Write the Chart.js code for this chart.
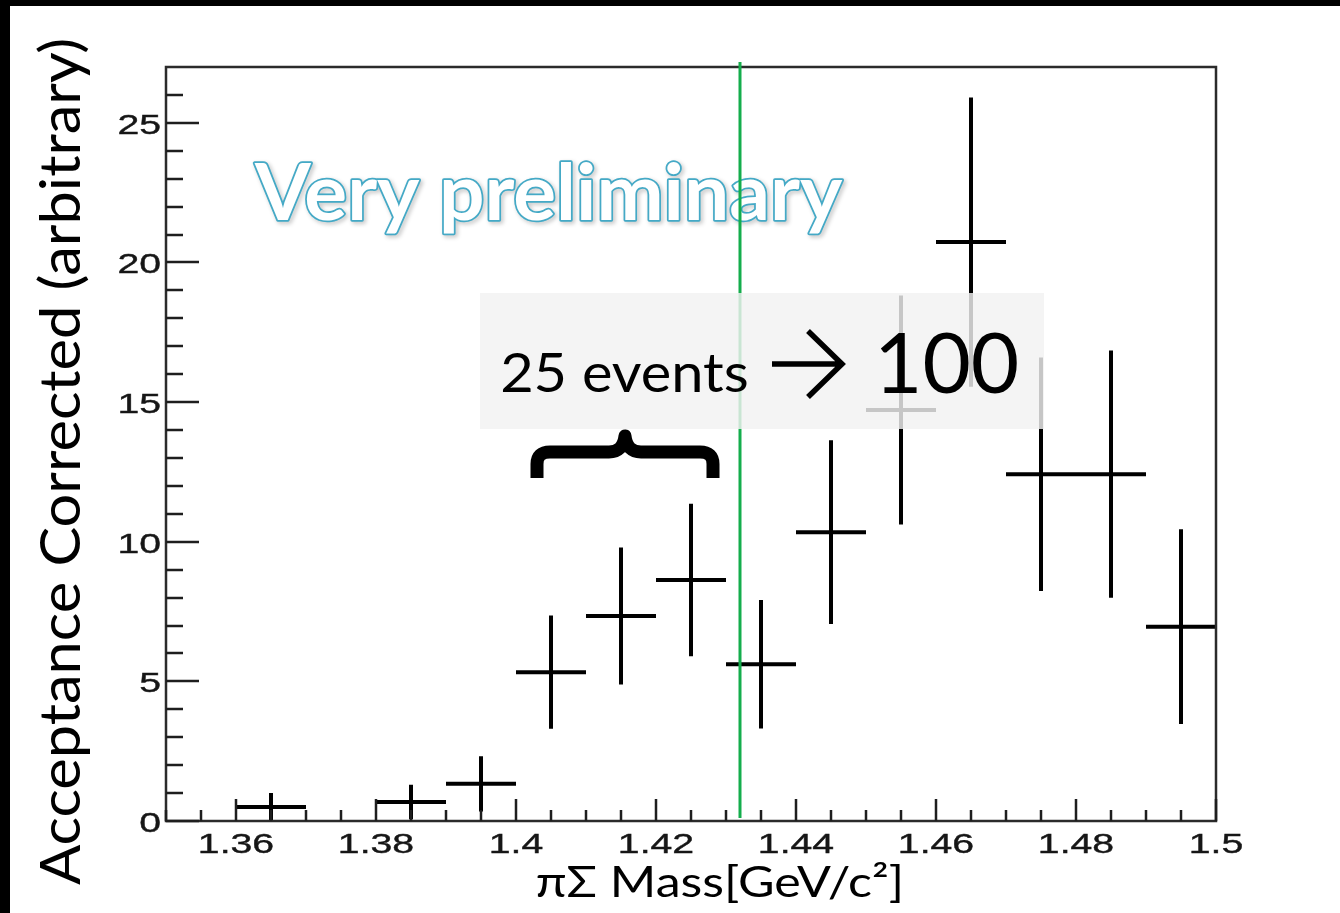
<!DOCTYPE html>
<html>
<head>
<meta charset="utf-8">
<script src="https://cdn.jsdelivr.net/npm/chart.js@4.4.1/dist/chart.umd.min.js"></script>
<style>
  html, body { margin: 0; padding: 0; background: #000; overflow: hidden; }
  #wrap { position: absolute; left: 0; top: 0; width: 1340px; height: 913px; }
</style>
</head>
<body>
<div id="wrap"><canvas id="massChart"></canvas></div>
<script>
// piSigma invariant mass, acceptance corrected yield per 10 MeV bin
var binCenters = [1.365, 1.385, 1.395, 1.405, 1.415, 1.425, 1.435, 1.445, 1.455, 1.465, 1.475, 1.485, 1.495];
var counts     = [0.50, 0.68, 1.33, 5.33, 7.34, 8.63, 5.61, 10.34, 14.72, 20.73, 12.42, 12.42, 6.96];
var errors     = [0.50, 0.62, 0.99, 2.03, 2.45, 2.73, 2.30, 3.29, 4.10, 5.18, 4.18, 4.43, 3.49];
var binWidth = 0.01;

var xTickValues = [1.36, 1.38, 1.4, 1.42, 1.44, 1.46, 1.48, 1.5];
var yTickValues = [0, 5, 10, 15, 20, 25];
var xMinorStep = 0.005;
var yMinorStep = 1;

var thresholdMass = 1.432; // K-p threshold

// error crosses as broken line segments (null breaks the line)
var hBars = [], vBars = [];
binCenters.forEach(function(x, i) {
    hBars.push({x: x - binWidth / 2, y: counts[i]}, {x: x + binWidth / 2, y: counts[i]}, {x: x, y: null});
    vBars.push({x: x, y: counts[i] - errors[i]}, {x: x, y: counts[i] + errors[i]}, {x: x, y: null});
});

// draw text squeezed/stretched so its ink fills the given box
function fitText(ctx, text, font, left, right, top, baseline, mode) {
    ctx.save();
    ctx.font = font;
    ctx.textAlign = 'left';
    ctx.textBaseline = 'alphabetic';
    var m = ctx.measureText(text);
    var inkW = m.actualBoundingBoxLeft + m.actualBoundingBoxRight;
    var sx = (right - left) / inkW;
    var sy = (baseline - top) / m.actualBoundingBoxAscent;
    ctx.translate(left, baseline);
    ctx.scale(sx, sy);
    if (mode && mode.stroke) {
        ctx.lineWidth = mode.lineWidth / ((sx + sy) / 2);
        ctx.strokeStyle = mode.stroke;
        ctx.lineJoin = 'round';
        if (mode.shadow) {
            ctx.shadowColor = mode.shadow;
            ctx.shadowBlur = 4;
            ctx.shadowOffsetX = 2;
            ctx.shadowOffsetY = 2;
        }
        ctx.strokeText(text, m.actualBoundingBoxLeft, 0);
        ctx.shadowColor = 'transparent';
        ctx.fillStyle = mode.fill;
        ctx.fillText(text, m.actualBoundingBoxLeft, 0);
    } else {
        ctx.fillStyle = (mode && mode.fill) || '#000';
        ctx.fillText(text, m.actualBoundingBoxLeft, 0);
    }
    ctx.restore();
}

var slide = {
    id: 'slide',
    beforeDraw: function(chart) {
        var ctx = chart.ctx;
        ctx.save();
        ctx.fillStyle = '#fff';
        ctx.fillRect(0, 0, chart.width, chart.height);
        ctx.fillStyle = '#000';
        ctx.fillRect(0, 0, chart.width, 6);
        ctx.fillRect(0, 0, 10, chart.height);
        ctx.restore();
    },
    afterDatasetsDraw: function(chart) {
        var ctx = chart.ctx;
        var a = chart.chartArea;
        var xs = chart.scales.x, ys = chart.scales.y;
        ctx.save();

        // frame
        ctx.strokeStyle = '#2b2b2b';
        ctx.lineWidth = 2.5;
        ctx.strokeRect(a.left, a.top, a.right - a.left, a.bottom - a.top);

        // ticks (inside the frame)
        ctx.strokeStyle = '#1e1e1e';
        ctx.lineWidth = 2.5;
        ctx.beginPath();
        for (var v = xs.min; v <= xs.max + 1e-9; v += xMinorStep) {
            var px = Math.round(xs.getPixelForValue(v));
            var major = xTickValues.some(function(t) { return Math.abs(t - v) < 1e-6; });
            ctx.moveTo(px, a.bottom);
            ctx.lineTo(px, a.bottom - (major ? 22 : 11));
        }
        for (var w = ys.min; w <= ys.max - 0.5; w += yMinorStep) {
            var py = Math.round(ys.getPixelForValue(w));
            var maj = yTickValues.indexOf(w) >= 0;
            ctx.moveTo(a.left, py);
            ctx.lineTo(a.left + (maj ? 33 : 17), py);
        }
        ctx.stroke();

        // tick labels, wide and a little soft
        ctx.save();
        ctx.filter = 'blur(0.5px)';
        ctx.fillStyle = '#161616';
        ctx.strokeStyle = '#161616';
        ctx.lineWidth = 0.4;
        ctx.font = '28px "Liberation Sans", Arial, sans-serif';
        ctx.textBaseline = 'alphabetic';
        xTickValues.forEach(function(t) {
            ctx.save();
            ctx.translate(xs.getPixelForValue(t), 853);
            ctx.scale(1.4, 1);
            ctx.textAlign = 'center';
            ctx.fillText(String(t), 0, 0);
            ctx.strokeText(String(t), 0, 0);
            ctx.restore();
        });
        yTickValues.forEach(function(t) {
            ctx.save();
            ctx.translate(161, ys.getPixelForValue(t) + 11);
            ctx.scale(1.4, 1);
            ctx.textAlign = 'right';
            ctx.fillText(String(t), 0, 0);
            ctx.strokeText(String(t), 0, 0);
            ctx.restore();
        });
        ctx.restore();

        // axis titles
        ctx.save();
        ctx.translate(80, 885);
        ctx.rotate(-Math.PI / 2);
        fitText(ctx, 'Acceptance Corrected (arbitrary)', '48px Lato, "Open Sans", sans-serif', 0, 845, -45, 0);
        ctx.restore();
        fitText(ctx, 'πΣ Mass[GeV/c²]', '40px Lato, "Open Sans", sans-serif', 537, 900, 862, 897);

        // watermark
        fitText(ctx, 'Very preliminary', 'bold 80px Lato, "Open Sans", sans-serif', 254, 843, 161, 220,
            {stroke: '#44a9c6', lineWidth: 3.5, fill: '#fff', shadow: 'rgba(0,0,0,0.25)'});

        // K-p threshold
        var tx = xs.getPixelForValue(thresholdMass);
        ctx.strokeStyle = '#14ad4c';
        ctx.lineWidth = 3;
        ctx.beginPath();
        ctx.moveTo(tx, a.top - 5);
        ctx.lineTo(tx, a.bottom - 3);
        ctx.stroke();

        // callout box
        ctx.fillStyle = 'rgba(242,242,242,0.82)';
        ctx.fillRect(480, 293, 564, 136);
        fitText(ctx, '25 events', '62px Lato, "Open Sans", sans-serif', 502, 747, 352, 392);
        fitText(ctx, '100', '96px Lato, "Open Sans", sans-serif', 880, 1017, 332, 393);

        // arrow
        ctx.strokeStyle = '#000';
        ctx.lineWidth = 5.5;
        ctx.lineJoin = 'miter';
        ctx.beginPath();
        ctx.moveTo(772, 364);
        ctx.lineTo(840, 364);
        ctx.moveTo(808, 331);
        ctx.lineTo(842, 364);
        ctx.lineTo(808, 397);
        ctx.stroke();

        // brace over the three bins
        ctx.lineWidth = 13;
        ctx.lineJoin = 'round';
        ctx.beginPath();
        ctx.moveTo(537, 478);
        ctx.lineTo(537, 464);
        ctx.quadraticCurveTo(537, 452, 550, 452);
        ctx.lineTo(609, 452);
        ctx.quadraticCurveTo(623, 452, 625, 436);
        ctx.quadraticCurveTo(627, 452, 641, 452);
        ctx.lineTo(700, 452);
        ctx.quadraticCurveTo(713, 452, 713, 464);
        ctx.lineTo(713, 478);
        ctx.stroke();

        ctx.restore();
    }
};

var config = {
    type: 'line',
    data: {
        datasets: [{
            label: 'bin width',
            data: hBars,
            borderColor: '#000',
            borderWidth: 4,
            pointRadius: 0,
            spanGaps: false,
            borderCapStyle: 'butt'
        }, {
            label: 'error',
            data: vBars,
            borderColor: '#000',
            borderWidth: 4,
            pointRadius: 0,
            spanGaps: false,
            borderCapStyle: 'butt'
        }]
    },
    options: {
        responsive: true,
        maintainAspectRatio: false,
        animation: false,
        layout: {
            padding: {left: 166, top: 67, right: 124, bottom: 92}
        },
        plugins: {
            legend: {display: false},
            tooltip: {enabled: false}
        },
        scales: {
            x: {
                type: 'linear',
                display: false,
                min: 1.35,
                max: 1.5
            },
            y: {
                type: 'linear',
                display: false,
                min: 0,
                max: 27
            }
        }
    },
    plugins: [slide]
};

var massChart = new Chart(document.getElementById('massChart'), config);
</script>
</body>
</html>
